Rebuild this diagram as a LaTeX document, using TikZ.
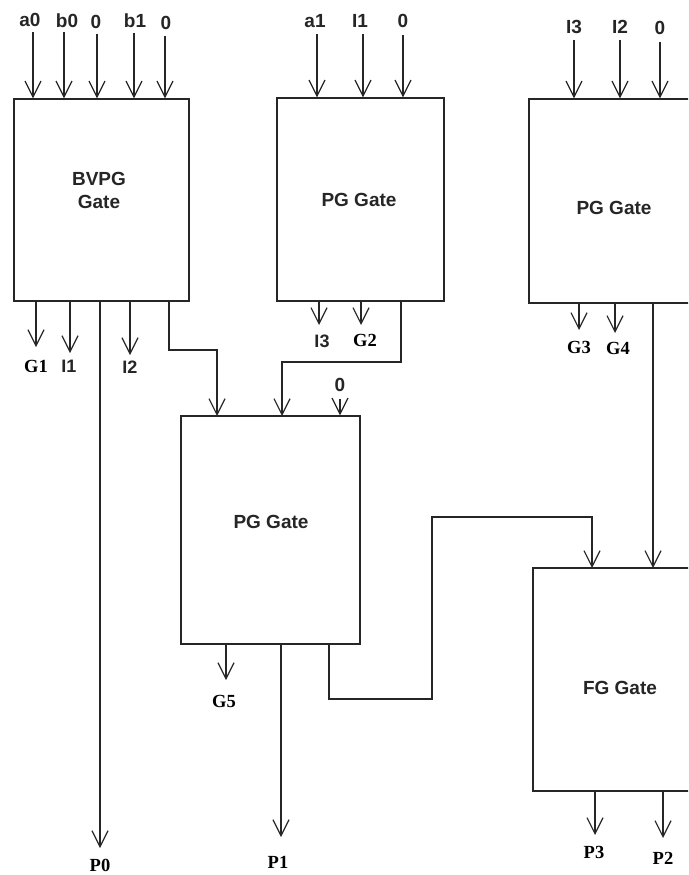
\documentclass[tikz,border=0pt]{standalone}
\usepackage{fontspec}
\setmainfont{Liberation Sans}
\newfontfamily\tnr{Liberation Serif}
\usetikzlibrary{arrows.meta}
\begin{document}
\begin{tikzpicture}[x=1pt,y=-1pt,
  wire/.style={line width=1.3pt,draw=black!85},
  arr/.style={wire,-{Straight Barb[length=16pt,width=16pt,line width=1.2pt]}},
  gatebox/.style={draw=black!85,line width=1.3pt,rectangle,inner sep=0pt},
  gatetext/.style={font=\fontsize{19}{23}\selectfont\bfseries,align=center,inner sep=0pt,text=black!85},
  inlab/.style={font=\fontsize{19}{22}\selectfont\bfseries,inner sep=0pt,text=black!85},
  outlab/.style={font=\fontsize{18}{21}\selectfont\bfseries,inner sep=0pt,text=black!85},
  serlab/.style={font=\tnr\fontsize{18.5}{21}\selectfont\bfseries,inner sep=0pt,text=black}]
\clip (0,0) rectangle (688,875);
\fill[white] (0,0) rectangle (688,875);
% boxes
\node[gatebox,minimum width=175pt,minimum height=202pt] (bvpg) at (101.5,200) {};
\node[gatebox,minimum width=167pt,minimum height=203pt] (pga) at (360.5,199.5) {};
\node[gatebox,minimum width=170pt,minimum height=204pt] (pgb) at (614,201) {};
\node[gatebox,minimum width=179pt,minimum height=228pt] (pgc) at (270.5,530) {};
\node[gatebox,minimum width=174pt,minimum height=223pt] (fg) at (620,679.5) {};
% box texts
\node[gatetext] (tbv) at (99,190) {BVPG\\Gate};
\node[gatetext] (tpga) at (359,200) {PG Gate};
\node[gatetext] (tpgb) at (614,208) {PG Gate};
\node[gatetext] (tpgc) at (271,522) {PG Gate};
\node[gatetext] (tfg) at (620,688) {FG Gate};
% BVPG inputs
\node[inlab] (ia0) at (30,20) {a0};
\node[inlab] (ib0) at (67,21) {b0};
\node[inlab] (iz0) at (96,22) {0};
\node[inlab] (ib1) at (135,21) {b1};
\node[inlab] (iz1) at (166,23) {0};
\coordinate (sa0) at (33,32); \coordinate (sb0) at (64,32);
\coordinate (sz0) at (97,34); \coordinate (sb1) at (134,33);
\coordinate (sz1) at (165,36);
\draw[arr] (sa0) -- (sa0 |- bvpg.north);
\draw[arr] (sb0) -- (sb0 |- bvpg.north);
\draw[arr] (sz0) -- (sz0 |- bvpg.north);
\draw[arr] (sb1) -- (sb1 |- bvpg.north);
\draw[arr] (sz1) -- (sz1 |- bvpg.north);
% PG A inputs
\node[inlab] (ia1) at (315,21) {a1};
\node[inlab] (iI1) at (360,21) {I1};
\node[inlab] (iz2) at (403,21) {0};
\coordinate (sa1) at (317,34); \coordinate (sI1) at (363,34); \coordinate (sz2) at (403,35);
\draw[arr] (sa1) -- (sa1 |- pga.north);
\draw[arr] (sI1) -- (sI1 |- pga.north);
\draw[arr] (sz2) -- (sz2 |- pga.north);
% PG B inputs
\node[inlab] (iI3) at (574,27) {I3};
\node[inlab] (iI2) at (620,27) {I2};
\node[inlab] (iz3) at (660,28) {0};
\coordinate (sI3) at (574,40); \coordinate (sI2) at (620,40); \coordinate (sz3) at (660,42);
\draw[arr] (sI3) -- (sI3 |- pgb.north);
\draw[arr] (sI2) -- (sI2 |- pgb.north);
\draw[arr] (sz3) -- (sz3 |- pgb.north);
% BVPG outputs
\coordinate (eG1) at (36,347); \coordinate (eI1) at (70,353); \coordinate (eI2) at (130,355);
\coordinate (eP0) at (100,848);
\draw[arr] (eG1 |- bvpg.south) -- (eG1);
\draw[arr] (eI1 |- bvpg.south) -- (eI1);
\draw[arr] (eI2 |- bvpg.south) -- (eI2);
\draw[arr] (eP0 |- bvpg.south) -- (eP0);
\node[serlab] (oG1) at (36,366) {G1};
\node[outlab] (oI1) at (69,366) {I1};
\node[outlab] (oI2) at (130,367) {I2};
\node[serlab] (oP0) at (100,865) {P0};
% PG A outputs
\coordinate (eI3) at (319,325); \coordinate (eG2) at (361,325);
\draw[arr] (eI3 |- pga.south) -- (eI3);
\draw[arr] (eG2 |- pga.south) -- (eG2);
\node[outlab] (oI3) at (322,341) {I3};
\node[serlab] (oG2) at (365,340) {G2};
% PG B outputs
\coordinate (eG3) at (579,330); \coordinate (eG4) at (615,333);
\draw[arr] (eG3 |- pgb.south) -- (eG3);
\draw[arr] (eG4 |- pgb.south) -- (eG4);
\node[serlab] (oG3) at (579,347) {G3};
\node[serlab] (oG4) at (618,348) {G4};
% connections into PG C
\draw[arr] (169,301) |- (217,350) -- (217,416);
\draw[arr] (401,301) |- (282,362) -- (282,416);
\node[inlab] (iz4) at (340,385) {0};
\coordinate (sz4) at (340,399);
\draw[arr] (sz4) -- (sz4 |- pgc.north);
% PG C outputs
\coordinate (eG5) at (226,680); \coordinate (eP1) at (281,837);
\draw[arr] (eG5 |- pgc.south) -- (eG5);
\draw[arr] (eP1 |- pgc.south) -- (eP1);
\node[serlab] (oG5) at (224,701) {G5};
\node[serlab] (oP1) at (278,862) {P1};
% connections into FG
\draw[arr] (329,644) |- (432,699) |- (592,517) -- (592,568);
\draw[arr] (653,303) -- (653,568);
% FG outputs
\coordinate (eP3) at (595,835); \coordinate (eP2) at (663,838);
\draw[arr] (eP3 |- fg.south) -- (eP3);
\draw[arr] (eP2 |- fg.south) -- (eP2);
\node[serlab] (oP3) at (594,852) {P3};
\node[serlab] (oP2) at (663,858) {P2};
\end{tikzpicture}
\end{document}
